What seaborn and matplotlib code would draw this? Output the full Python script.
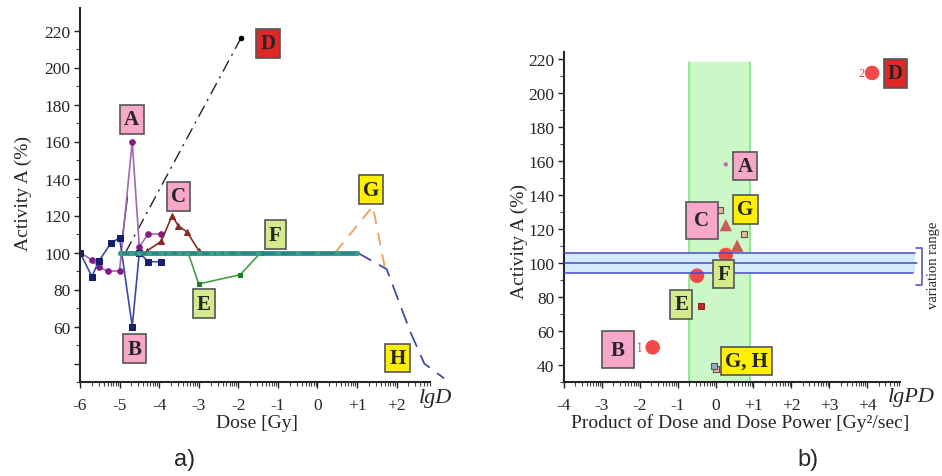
import numpy as np
import matplotlib
matplotlib.use("Agg")
import matplotlib.pyplot as plt
import seaborn as sns

# ---- panel a: activity vs lg of dose ----
a_x = [-6.0, -5.7, -5.52, -5.3, -5.0, -4.68, -4.5, -4.28, -3.95]
a_y = [100, 96, 92, 90, 90, 160, 103, 110, 110]
b_x = [-6.0, -5.7, -5.52, -5.22, -5.0, -4.68, -4.5, -4.28, -3.95]
b_y = [100, 87, 95.5, 105, 108, 60, 100, 95, 95]
c_x = [-4.3, -3.95, -3.67, -3.52, -3.29, -3.0]
c_y = [101, 106, 120, 114.5, 111, 101]
d_x = [-4.85, -1.93]
d_y = [100, 216]
d2_x = [-4.93, -4.8]
d2_y = [108, 130]
e_x = [-3.27, -3.0, -1.95, -1.43]
e_y = [100, 83, 88, 100]
f_x = [-5.0, -4.7, -4.5, -4.25, -3.95, -3.75, -3.5, -3.3, -3.0, -2.7, -2.5,
       -2.3, -2.0, -1.5, -1.0, -0.5, 0.0, 0.5, 1.0]
f_y = [100] * len(f_x)
g_x = [0.45, 1.4, 1.73]
g_y = [100, 125, 89]
h_x = [1.0, 1.75, 2.35, 2.7, 3.2]
h_y = [100, 91, 57, 40, 32]

lab_a = ['A', 'B', 'C', 'D', 'E', 'F', 'G', 'H']
lab_a_x = [-4.69, -4.62, -3.51, -1.25, -2.87, -1.07, 1.35, 2.03]
lab_a_y = [171.9, 48.1, 130.3, 213, 72.4, 109.7, 134, 43]

# ---- panel b: activity vs lg of dose * dose power ----
circ_x = [4.13, -1.66, -0.49, 0.27]
circ_y = [211.8, 50.4, 92.5, 104.7]
tri_x = [0.27, 0.57]
tri_y = [122.3, 110.2]
sq_x = [0.12, 0.75, 0.0]
sq_y = [131, 117, 37.6]
sq2_x = [-0.03]
sq2_y = [39.3]
sq3_x = [-0.39]
sq3_y = [74.9]
dot_x = [0.27]
dot_y = [158]
band_x = [-0.7, 0.9]
var_lo, var_mid, var_hi = 94.3, 100, 106

lab_b = ['A', 'B', 'C', 'D', 'E', 'F', 'G', 'G, H']
lab_b_x = [0.78, -2.58, -0.36, 4.75, -0.91, 0.21, 0.79, 0.81]
lab_b_y = [157, 49.1, 125, 211.5, 75.6, 93.5, 131.5, 42.4]

box_col = {'A': '#f7a8c8', 'B': '#f7a8c8', 'C': '#f7a8c8', 'D': '#e02828',
           'E': '#d4ea8c', 'F': '#d4ea8c', 'G': '#fff000', 'H': '#fff000',
           'G, H': '#fff000'}

sns.set_style("ticks")
plt.rcParams['font.family'] = ['Liberation Serif', 'DejaVu Serif']
plt.rcParams['axes.unicode_minus'] = False

fig = plt.figure(figsize=(9.42, 4.77), dpi=100)
ax1 = fig.add_axes([80 / 942, 94 / 477, 368 / 942, 373.7 / 477])
ax2 = fig.add_axes([564 / 942, 94 / 477, 360 / 942, 329.8 / 477])


def label_box(ax, x, y, s, big=False):
    ax.text(x, y, s, ha='center', va='center', fontsize=15, fontweight='bold',
            zorder=10,
            bbox=dict(boxstyle='square,pad=%s' % (0.42 if big else 0.2),
                      fc=box_col[s], ec='#555555', lw=1.2))


def style_axis(ax, xmin, xmax, xend, ymin, ymax, yticks, ylabels, xlabels):
    ax.set_xlim(xmin, xmax)
    ax.set_ylim(ymin, ymax)
    for s in ['top', 'right']:
        ax.spines[s].set_visible(False)
    ax.spines['bottom'].set_bounds(xmin, xend)
    ax.spines['left'].set_linewidth(1.5)
    ax.spines['bottom'].set_linewidth(1.5)
    ax.set_yticks(yticks)
    ax.set_yticklabels(ylabels)
    ax.set_yticks([t + 10 for t in yticks[:-1]] + [yticks[0] - 10], minor=True)
    ticks = list(range(int(xmin), int(xmin) + len(xlabels)))
    ax.set_xticks(ticks)
    ax.set_xticklabels(xlabels)
    minor = [k + np.log10(m) for k in range(int(xmin), int(xend) + 1)
             for m in range(2, 10) if k + np.log10(m) < xend]
    ax.set_xticks(minor, minor=True)
    ax.tick_params(axis='both', which='major', labelsize=12.5, length=4,
                   width=1, color='#222222')
    ax.tick_params(axis='both', which='minor', length=3, width=0.8,
                   color='#444444')
    ax.tick_params(axis='x', which='both', pad=7)
    ax.tick_params(axis='y', pad=3)


# ---------- panel a ----------
style_axis(ax1, -6, 3.3, 2.85, 30, 232,
           [40, 60, 80, 100, 120, 140, 160, 180, 200, 220],
           ['', '60', '80', '100', '120', '140', '160', '180', '200', '220'],
           ['-6', '-5', '-4', '-3', '-2', '-1', '0', '+1', '+2'])

sns.lineplot(x=d_x, y=d_y, ax=ax1, color='#222222', lw=1.0, sort=False,
             linestyle=(0, (9, 4, 1.5, 4)))
ax1.scatter([d_x[-1]], [d_y[-1]], s=9, color='black', zorder=5)
sns.lineplot(x=d2_x, y=d2_y, ax=ax1, color='#222222', lw=1.0, sort=False)
sns.lineplot(x=a_x, y=a_y, ax=ax1, color='#a467b4', lw=1.2, sort=False,
             marker='o', markersize=4, markerfacecolor='#7d1d85',
             markeredgecolor='#7d1d85')
sns.lineplot(x=b_x, y=b_y, ax=ax1, color='#3b4aa8', lw=1.2, sort=False,
             marker='s', markersize=4, markerfacecolor='#14206e',
             markeredgecolor='#14206e')
sns.lineplot(x=c_x, y=c_y, ax=ax1, color='#8a2b25', lw=1.2, sort=False,
             marker='^', markersize=5, markerfacecolor='#8a2b25',
             markeredgecolor='#8a2b25')
sns.lineplot(x=e_x, y=e_y, ax=ax1, color='#44a044', lw=1.2, sort=False,
             marker='s', markersize=3.5, markerfacecolor='#1f7f1f',
             markeredgecolor='#1f7f1f')
sns.lineplot(x=g_x, y=g_y, ax=ax1, color='#e8a556', lw=1.3, sort=False,
             linestyle=(0, (7, 5)))
sns.lineplot(x=h_x, y=h_y, ax=ax1, color='#3d4fa8', lw=1.3, sort=False,
             linestyle=(0, (9, 5)))
sns.lineplot(x=f_x, y=f_y, ax=ax1, color='#2b8686', lw=3.4, sort=False,
             marker='o', markersize=3, markerfacecolor='#3aa08a',
             markeredgecolor='#3aa08a')

for s, x, y in zip(lab_a, lab_a_x, lab_a_y):
    label_box(ax1, x, y, s)

ax1.set_ylabel('Activity A (%)', fontsize=14)
ax1.yaxis.set_label_coords(-0.13, 0.506)
ax1.set_xlabel('Dose [Gy]', fontsize=14)
ax1.xaxis.set_label_coords(0.481, -0.085)
ax1.text(2.56, 27, 'lgD', fontsize=16, style='italic', ha='left', va='top',
         clip_on=False)

# ---------- panel b ----------
style_axis(ax2, -4, 5.5, 4.87, 30, 224,
           [40, 60, 80, 100, 120, 140, 160, 180, 200, 220],
           ['40', '60', '80', '100', '120', '140', '160', '180', '200', '220'],
           ['-4', '-3', '-2', '-1', '0', '+1', '+2', '+3', '+4'])

ax2.fill_between(band_x, 30, 218, color='#ccf8c8', zorder=0, lw=0)
for bx in band_x:
    ax2.plot([bx, bx], [30, 218], color='#86e486', lw=1.2, zorder=0.5)
ax2.fill_between([-4, 5.25], var_lo, var_hi, color='#d2ecfa', zorder=0.8, lw=0)

sns.scatterplot(x=circ_x, y=circ_y, ax=ax2, color='#f24a4a', s=110,
                marker='o', edgecolor='none', zorder=2)
sns.scatterplot(x=tri_x, y=tri_y, ax=ax2, color='#c85a58', s=80,
                marker='^', edgecolor='none', zorder=2)
sns.scatterplot(x=sq_x, y=sq_y, ax=ax2, color='#e6bb98', s=22,
                marker='s', edgecolor='#555555', linewidth=0.8, zorder=2)
sns.scatterplot(x=sq2_x, y=sq2_y, ax=ax2, color='#8fb0d0', s=22,
                marker='s', edgecolor='#555555', linewidth=0.8, zorder=2.1)
sns.scatterplot(x=sq3_x, y=sq3_y, ax=ax2, color='#c02828', s=16,
                marker='s', edgecolor='#801010', linewidth=0.6, zorder=2)
sns.scatterplot(x=dot_x, y=dot_y, ax=ax2, color='#c070a8', s=10,
                marker='o', edgecolor='none', zorder=2)

ax2.plot([-4, 5.25], [var_hi, var_hi], color='#4a4ac4', lw=1.1, zorder=3)
ax2.plot([-4, 5.32], [var_mid, var_mid], color='#4a4ac4', lw=1.1, zorder=3)
ax2.plot([-4, 5.2], [var_lo, var_lo], color='#4a4ac4', lw=1.1, zorder=3)
ax2.plot([5.3, 5.45, 5.45, 5.3], [109, 109, 87, 87], color='#5a5ab8',
         lw=1.2, zorder=3, clip_on=False)
ax2.text(5.75, 99, 'variation range', rotation=90, fontsize=10.5,
         ha='center', va='center', clip_on=False)

ax2.text(circ_x[0] - 0.28, circ_y[0], '2', color='#e04040', fontsize=9,
         ha='center', va='center')
ax2.text(circ_x[1] - 0.35, circ_y[1], '1', color='#e06060', fontsize=10,
         ha='center', va='center')

for s, x, y in zip(lab_b, lab_b_x, lab_b_y):
    label_box(ax2, x, y, s, big=(s in ['B', 'C']))

ax2.set_ylabel('Activity A (%)', fontsize=14)
ax2.yaxis.set_label_coords(-0.1, 0.43)
ax2.set_xlabel('Product of Dose and Dose Power [Gy\u00b2/sec]', fontsize=14)
ax2.xaxis.set_label_coords(0.49, -0.095)
ax2.text(4.55, 27, 'lgPD', fontsize=16, style='italic', ha='left', va='top',
         clip_on=False)

fig.text(185 / 942, 1 - 460 / 477, 'a)', fontsize=17, family='Liberation Sans',
         ha='center', va='center')
fig.text(808 / 942, 1 - 460 / 477, 'b)', fontsize=17, family='Liberation Sans',
         ha='center', va='center')

fig.savefig('out.png', dpi=100)
